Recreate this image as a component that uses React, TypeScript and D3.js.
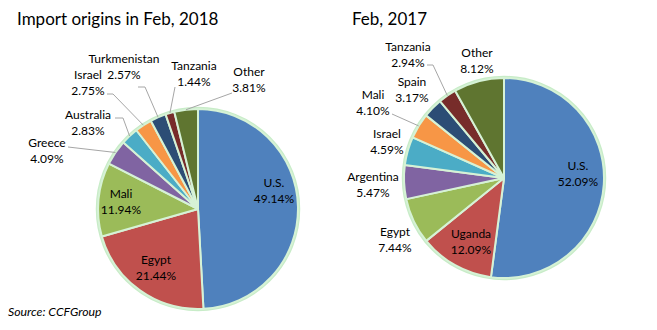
import React from "react";
import * as d3 from "d3";

const leftCategories = ["U.S.", "Egypt", "Mali", "Greece", "Australia", "Israel", "Turkmenistan", "Tanzania", "Other"];
const leftValues = [49.14, 21.44, 11.94, 4.09, 2.83, 2.75, 2.57, 1.44, 3.81];
const rightCategories = ["U.S.", "Uganda", "Egypt", "Argentina", "Israel", "Mali", "Spain", "Tanzania", "Other"];
const rightValues = [52.09, 12.09, 7.44, 5.47, 4.59, 4.10, 3.17, 2.94, 8.12];
const sliceColors = ["#4F81BD", "#C0504D", "#9BBB59", "#8064A2", "#4BACC6", "#F79646", "#2C4D75", "#772C2A", "#5F7530"];

type LabelSpec = { dx: number; dy: number; leader?: [number, number][] };

// label centre offsets relative to pie centre (layout, not data)
const leftLabels: LabelSpec[] = [
  { dx: 76, dy: -18 },
  { dx: -42, dy: 59 },
  { dx: -77, dy: -7 },
  { dx: -151, dy: -58, leader: [[-130, -62]] },
  { dx: -110, dy: -86, leader: [[-83, -91], [-75, -91]] },
  { dx: -110, dy: -126, leader: [[-91, -115], [-85, -115]] },
  { dx: -74, dy: -142, leader: [[-60, -122], [-53, -122]] },
  { dx: -4, dy: -135, leader: [[-23, -122]] },
  { dx: 51, dy: -129, leader: [[34, -116]] },
];
const rightLabels: LabelSpec[] = [
  { dx: 74, dy: -4 },
  { dx: -33, dy: 64 },
  { dx: -109, dy: 62 },
  { dx: -131, dy: 7 },
  { dx: -117, dy: -36 },
  { dx: -131, dy: -75, leader: [[-112, -64]] },
  { dx: -92, dy: -88 },
  { dx: -96, dy: -123, leader: [[-77, -113], [-71, -113]] },
  { dx: -27, dy: -117 },
];

const font = "Lato, 'Open Sans', sans-serif";

function Pie({ cx, cy, r, cats, vals, labels }: { cx: number; cy: number; r: number; cats: string[]; vals: number[]; labels: LabelSpec[] }) {
  const pie = d3.pie<number>().sort(null).value((d) => d);
  const arcs = pie(vals);
  const arc = d3.arc<d3.PieArcDatum<number>>().innerRadius(0).outerRadius(r);
  return (
    <g transform={`translate(${cx},${cy})`}>
      <circle r={r + 1} fill="none" stroke="#c8ecc8" strokeWidth={2.5} />
      {arcs.map((a, i) => (
        <path key={i} d={arc(a) || ""} fill={sliceColors[i]} stroke="#d6f2d6" strokeWidth={2} strokeLinejoin="round" />
      ))}
      {arcs.map((a, i) => {
        const L = labels[i];
        if (!L.leader) return null;
        const mid = (a.startAngle + a.endAngle) / 2;
        const end: [number, number] = [Math.sin(mid) * r, -Math.cos(mid) * r];
        const pts = [...L.leader, end];
        return <path key={"l" + i} d={d3.line()(pts) || ""} fill="none" stroke="#a6a6a6" strokeWidth={1} />;
      })}
      {arcs.map((a, i) => {
        const L = labels[i];
        const pct = vals[i].toFixed(2) + "%";
        return (
          <text key={"t" + i} textAnchor="middle" fontFamily={font} fontSize={12} fill="#000">
            <tspan x={L.dx} y={L.dy - 8} dy="0.35em">{cats[i]}</tspan>
            <tspan x={L.dx} y={L.dy + 8} dy="0.35em">{pct}</tspan>
          </text>
        );
      })}
    </g>
  );
}

export default function App() {
  return (
    <svg width={657} height={330} style={{ position: "absolute", left: 0, top: 0, background: "#fff" }}>
      <rect width={657} height={330} fill="#fff" />
      <text x={17} y={25} fontFamily={font} fontSize={17} fill="#000">Import origins in Feb, 2018</text>
      <text x={352} y={25} fontFamily={font} fontSize={17} fill="#000">Feb, 2017</text>
      <Pie cx={198} cy={209} r={100} cats={leftCategories} vals={leftValues} labels={leftLabels} />
      <Pie cx={504} cy={178} r={100} cats={rightCategories} vals={rightValues} labels={rightLabels} />
      <text x={8} y={316} fontFamily={font} fontSize={12.3} fontStyle="italic" fill="#000">Source: CCFGroup</text>
    </svg>
  );
}
